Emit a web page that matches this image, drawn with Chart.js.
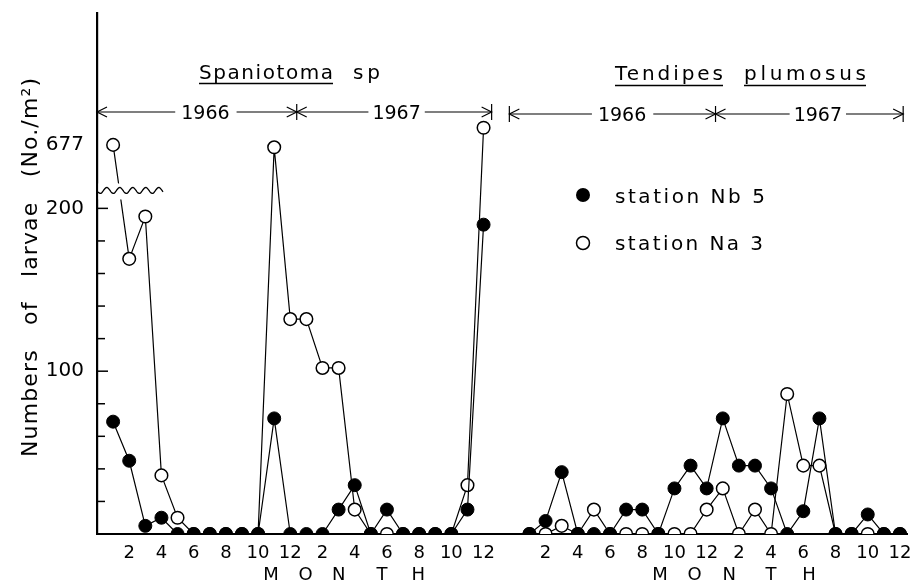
<!DOCTYPE html>
<html>
<head>
<meta charset="utf-8">
<script src="https://cdn.jsdelivr.net/npm/chart.js@4.4.0/dist/chart.umd.min.js"></script>
<style>
  html, body { margin: 0; padding: 0; background: #fff; }
  #wrap { width: 915px; height: 584px; position: relative; }
</style>
</head>
<body>
<div id="wrap"><canvas id="chart"></canvas></div>
<script>
// Larvae per m2, monthly, Jan 1966 .. Dec 1967
const spanNb5 = [69, 45, 5, 10, 0, 0, 0, 0, 0, 0, 71, 0,
                 0, 0, 15, 30, 0, 15, 0, 0, 0, 0, 15, 190];
const spanNa3 = [677, 169, 195, 36, 10, 0, 0, 0, 0, 0, 668, 132,
                 132, 102, 102, 15, 0, 0, 0, 0, 0, 0, 30, 740];
const tendNb5 = [0, 8, 38, 0, 0, 0, 15, 15, 0, 28, 42, 28,
                 71, 42, 42, 28, 0, 14, 71, 0, 0, 12, 0, 0];
const tendNa3 = [0, 0, 5, 0, 15, 0, 0, 0, 0, 0, 0, 15,
                 28, 0, 15, 0, 86, 42, 42, 0, 0, 0, 0, 0];

const yTickValues = [100, 200, 677];
const yMinorTicks = [20, 40, 60, 80, 120, 140, 160, 180];
const xTickMonths = [2, 4, 6, 8, 10, 12];
const yearLabels = ['1966', '1967'];
const stations = ['station Nb 5', 'station Na 3'];
const monthWord = ['M', 'O', 'N', 'T', 'H'];

const FONT = '"DejaVu Sans", sans-serif';
const TEND_START = 25.85;   // month slot where Tendipes block starts

// broken y axis: values above the break are squeezed
function brk(v) {
    return v <= 220 ? v : 222 + (v - 575) / 6;
}

function toPoints(values, offset) {
    return values.map((v, k) => ({ x: offset + k + 1, y: brk(v) }));
}

const tickPos = [];
const tickLab = [];
[0, TEND_START].forEach(off => {
    [0, 12].forEach(yr => {
        xTickMonths.forEach(m => { tickPos.push(off + yr + m); tickLab.push(String(m)); });
    });
});

function fitText(ctx, text, x, y, w, size) {
    ctx.font = size + 'px ' + FONT;
    ctx.letterSpacing = '0px';
    const m = ctx.measureText(text).width;
    const ls = text.length > 1 ? (w - m) / (text.length - 1) : 0;
    ctx.letterSpacing = ls + 'px';
    ctx.textAlign = 'left';
    ctx.fillText(text, x, y);
    ctx.letterSpacing = '0px';
}

const decor = {
    id: 'decor',
    afterDraw(chart) {
        const { ctx, chartArea } = chart;
        const xs = chart.scales.x, ys = chart.scales.y;
        const px = v => xs.getPixelForValue(v);
        const py = v => ys.getPixelForValue(brk(v));
        const line = (a, b, c, d) => { ctx.beginPath(); ctx.moveTo(a, b); ctx.lineTo(c, d); ctx.stroke(); };
        const x0 = chartArea.left;

        ctx.save();
        ctx.strokeStyle = '#000';
        ctx.fillStyle = '#000';
        ctx.textBaseline = 'alphabetic';

        // inward tick marks
        ctx.lineWidth = 1.5;
        yMinorTicks.forEach(v => line(x0, py(v), x0 + 8, py(v)));
        [100, 200].forEach(v => line(x0, py(v), x0 + 11, py(v)));

        // axis break
        const yb = py(211);
        ctx.fillStyle = '#fff';
        ctx.fillRect(x0 + 1.5, yb - 7, 68, 16);
        ctx.fillStyle = '#000';
        ctx.lineWidth = 1.3;
        ctx.beginPath();
        for (let xx = x0 + 1; xx <= x0 + 66; xx += 1) {
            const yy = yb + 3 * Math.sin((xx - x0) / 13 * 2 * Math.PI);
            if (xx === x0 + 1) ctx.moveTo(xx, yy); else ctx.lineTo(xx, yy);
        }
        ctx.stroke();

        // taxon titles, underlined
        ctx.lineWidth = 1.3;
        fitText(ctx, 'Spaniotoma', 199, 79, 134, 20);
        line(199, 83.5, 333, 83.5);
        fitText(ctx, 'sp', 353, 79, 27, 20);
        fitText(ctx, 'Tendipes', 615, 80, 108, 20);
        line(615, 85.5, 723, 85.5);
        fitText(ctx, 'plumosus', 744, 80, 122, 20);
        line(744, 85.5, 866, 85.5);

        // year spans with arrows
        ctx.lineWidth = 1.2;
        const head = (xt, yy, dir) => {
            ctx.beginPath();
            ctx.moveTo(xt - dir * 10, yy - 5); ctx.lineTo(xt, yy); ctx.lineTo(xt - dir * 10, yy + 5);
            ctx.stroke();
        };
        const yearSpan = (yy, start, mid, end, c1, c2, startBar) => {
            const xa = px(start), xm = px(mid), xe = px(end);
            const t1 = px(c1), t2 = px(c2);
            ctx.font = '19px ' + FONT;
            ctx.letterSpacing = '0px';
            const w = ctx.measureText(yearLabels[0]).width;
            ctx.textAlign = 'left';
            ctx.fillText(yearLabels[0], t1 - w / 2, yy + 7);
            ctx.fillText(yearLabels[1], t2 - w / 2, yy + 7);
            line(xa, yy, t1 - w / 2 - 6, yy);
            line(t1 + w / 2 + 7, yy, xm, yy);
            line(xm, yy, t2 - w / 2 - 4, yy);
            line(t2 + w / 2 + 4, yy, xe, yy);
            head(xa, yy, -1);
            head(xm, yy, 1);
            head(xm, yy, -1);
            line(xm, yy - 8, xm, yy + 8);
            head(xe, yy, 1);
            line(xe, yy - 8, xe, yy + 8);
            if (startBar) line(xa, yy - 8, xa, yy + 8);
        };
        yearSpan(112, 0, 12.4, 24.5, 6.73, 18.6, false);
        yearSpan(114, 25.6, 38.4, 50.05, 32.6, 44.75, true);

        // legend
        ctx.lineWidth = 1.5;
        ctx.beginPath(); ctx.arc(583, 195, 7, 0, 2 * Math.PI); ctx.fill();
        ctx.fillStyle = '#fff';
        ctx.beginPath(); ctx.arc(583, 243, 6.5, 0, 2 * Math.PI); ctx.fill(); ctx.stroke();
        ctx.fillStyle = '#000';
        fitText(ctx, stations[0], 615, 203, 150, 20);
        fitText(ctx, stations[1], 615, 250, 148, 20);

        // MONTH under each block
        ctx.font = '18px ' + FONT;
        ctx.textAlign = 'center';
        [[10.8, 12.95, 15.0, 17.7, 19.95], [34.95, 37.1, 39.25, 41.85, 44.2]].forEach(set => {
            set.forEach((v, i) => ctx.fillText(monthWord[i], px(v), 580));
        });

        // y axis title
        ctx.translate(37, 267.5);
        ctx.rotate(-Math.PI / 2);
        const title = 'Numbers   of   larvae   (No./m\u00B2)';
        fitText(ctx, title, -189.5, 0, 379, 22);
        ctx.restore();
    }
};

const common = { borderColor: '#000', borderWidth: 1.2, tension: 0, pointBorderColor: '#000' };
const filled = { ...common, pointBackgroundColor: '#000', pointRadius: 6.5, pointBorderWidth: 1 };
const open = { ...common, pointBackgroundColor: '#fff', pointRadius: 6.3, pointBorderWidth: 1.5 };

new Chart(document.getElementById('chart'), {
    type: 'line',
    data: {
        datasets: [
            { ...filled, label: 'Spaniotoma Nb 5', data: toPoints(spanNb5, 0) },
            { ...filled, label: 'Tendipes Nb 5', data: toPoints(tendNb5, TEND_START) },
            { ...open, label: 'Spaniotoma Na 3', data: toPoints(spanNa3, 0) },
            { ...open, label: 'Tendipes Na 3', data: toPoints(tendNa3, TEND_START) }
        ]
    },
    options: {
        responsive: true,
        maintainAspectRatio: false,
        animation: false,
        layout: { padding: { top: 13, right: 3, left: 0, bottom: 0 } },
        plugins: { legend: { display: false }, tooltip: { enabled: false } },
        scales: {
            x: {
                type: 'linear', min: 0, max: 50.3,
                grid: { display: false },
                border: { display: true, color: '#000', width: 2 },
                ticks: {
                    autoSkip: false, maxRotation: 0, color: '#000', padding: 1,
                    font: { size: 18, family: FONT },
                    callback: (v, i) => tickLab[i]
                },
                afterBuildTicks: ax => { ax.ticks = tickPos.map(v => ({ value: v })); },
                afterFit: ax => { ax.height = 50; ax.paddingLeft = 0; ax.paddingRight = 0; }
            },
            y: {
                type: 'linear', min: 0, max: 320,
                grid: { display: false },
                border: { display: true, color: '#000', width: 2.2 },
                ticks: {
                    color: '#000', padding: 5,
                    font: { size: 20, family: FONT },
                    callback: (v, i) => String(yTickValues[i])
                },
                afterBuildTicks: ax => { ax.ticks = yTickValues.map(v => ({ value: brk(v) })); },
                afterFit: ax => { ax.width = 97; ax.paddingTop = 0; ax.paddingBottom = 0; }
            }
        }
    },
    plugins: [decor]
});
</script>
</body>
</html>
